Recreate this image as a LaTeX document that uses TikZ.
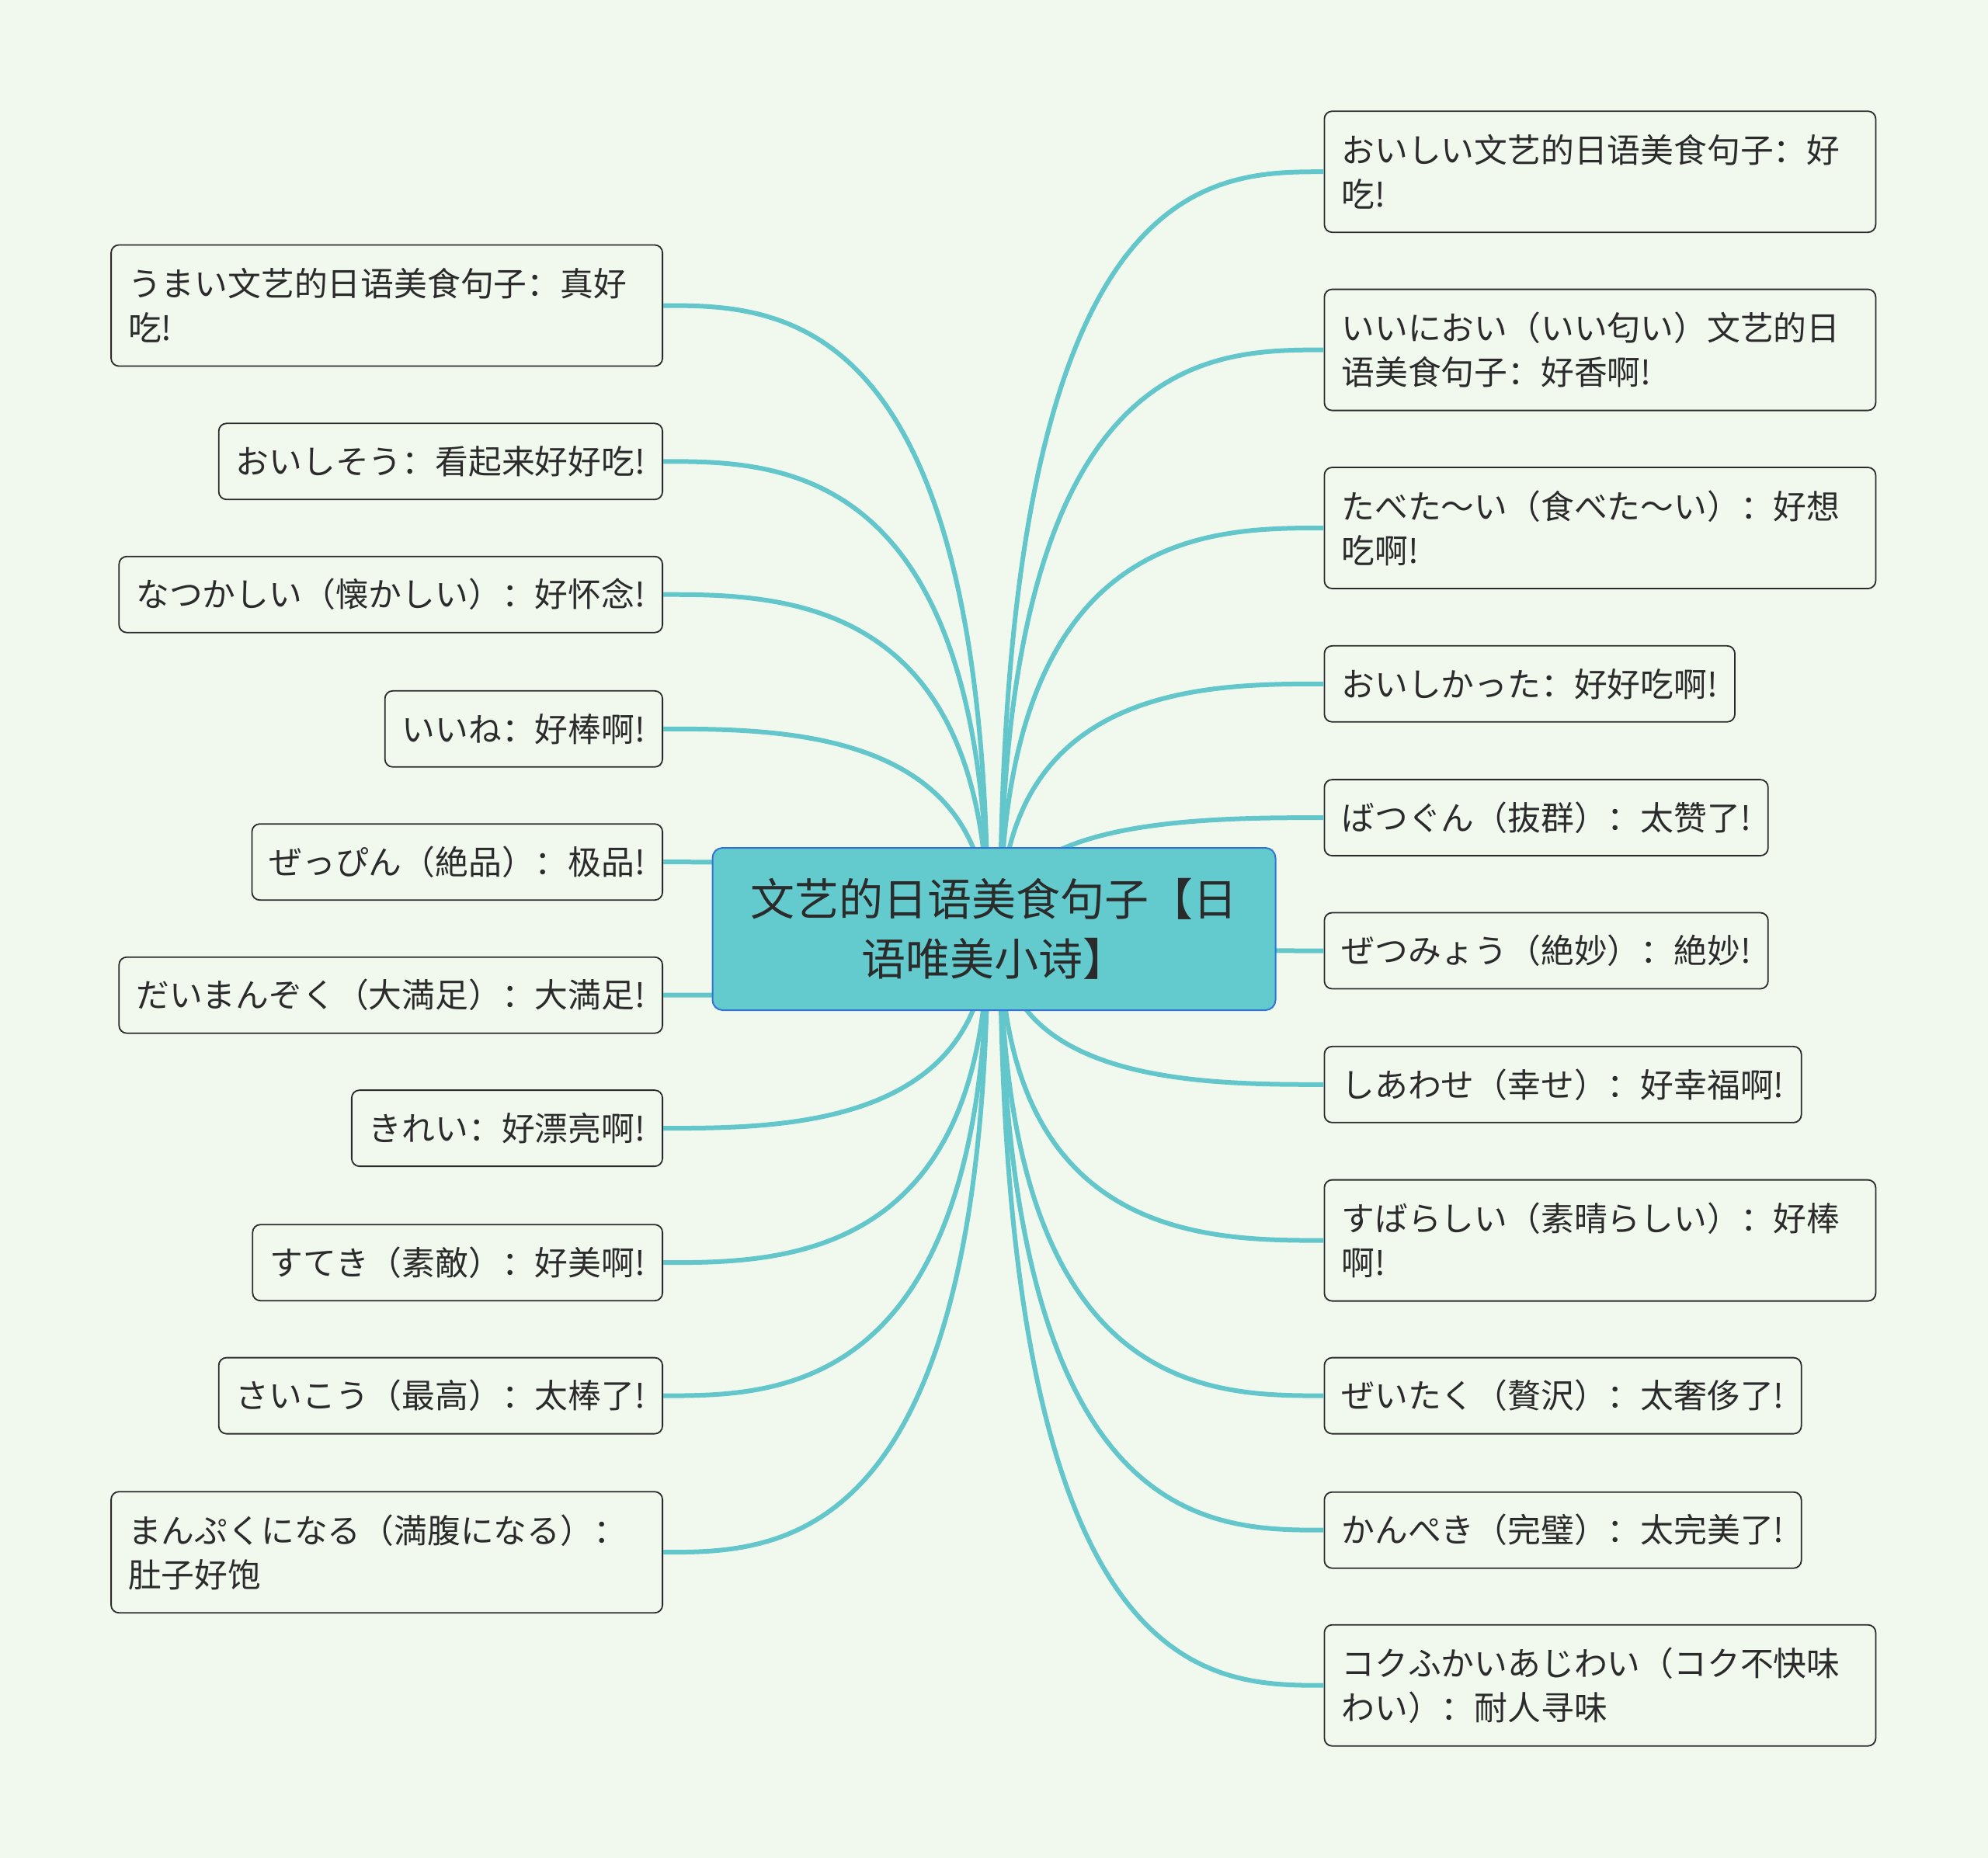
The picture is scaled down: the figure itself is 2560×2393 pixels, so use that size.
\documentclass[tikz,border=0pt]{standalone}
\usepackage{fontspec}
\setmainfont{Noto Sans CJK SC}
\usepackage{tikz}
\definecolor{paper}{HTML}{F1F9EF}
\definecolor{branch}{HTML}{63C6CA}
\definecolor{rootfill}{HTML}{63CACD}
\definecolor{rootline}{HTML}{2F74D6}
\definecolor{ink}{HTML}{2B2B2B}
\tikzset{
  leaf/.style={
    draw=ink, line width=0.9pt, rounded corners=5pt, fill=paper, text=ink,
    font=\fontsize{21.4pt}{28.6pt}\selectfont,
    inner xsep=11pt, inner ysep=0pt, minimum height=49pt, align=left
  },
  wide/.style={text width=333pt, minimum height=78pt},
  rootbox/.style={
    draw=rootline, line width=1pt, rounded corners=6.5pt, fill=rootfill, text=ink,
    font=\fontsize{28.5pt}{38.4pt}\selectfont,
    minimum width=362.5pt, minimum height=104.5pt, align=center
  },
  link/.style={draw=branch, line width=3pt}
}

\begin{document}
\begin{tikzpicture}[x=0.5pt, y=-0.5pt]
  \useasboundingbox (0,0) rectangle (2560,2393);
  \fill[paper] (0,0) rectangle (2560,2393);

  % hubs the branches grow from (behind the root box)
  \coordinate (hub) at (1280,1196.5);
  \coordinate (hubL) at (1272,1196.5);
  \coordinate (hubR) at (1288,1196.5);

  % left branches
  \node[leaf, wide, anchor=east] (l1) at (854,393.5) {うまい文艺的日语美食句子：真好\\吃!};
  \node[leaf, anchor=east] (l2) at (854,594.3) {おいしそう：看起来好好吃!};
  \node[leaf, anchor=east] (l3) at (854,765.7) {なつかしい（懐かしい）：好怀念!};
  \node[leaf, anchor=east] (l4) at (854,938.8) {いいね：好棒啊!};
  \node[leaf, anchor=east] (l5) at (854,1110.2) {ぜっぴん（絶品）：极品!};
  \node[leaf, anchor=east] (l6) at (854,1281.7) {だいまんぞく（大満足）：大満足!};
  \node[leaf, anchor=east] (l7) at (854,1453.1) {きれい：好漂亮啊!};
  \node[leaf, anchor=east] (l8) at (854,1626.2) {すてき（素敵）：好美啊!};
  \node[leaf, anchor=east] (l9) at (854,1797.6) {さいこう（最高）：太棒了!};
  \node[leaf, wide, anchor=east] (l10) at (854,1999.2) {まんぷくになる（満腹になる）：\\肚子好饱};

  % right branches
  \node[leaf, wide, anchor=west] (r1) at (1704.5,221.2) {おいしい文艺的日语美食句子：好\\吃!};
  \node[leaf, wide, anchor=west] (r2) at (1704.5,450.6) {いいにおい（いい匂い）文艺的日\\语美食句子：好香啊!};
  \node[leaf, wide, anchor=west] (r3) at (1704.5,680) {たべた～い（食べた～い）：好想\\吃啊!};
  \node[leaf, anchor=west] (r4) at (1704.5,880.8) {おいしかった：好好吃啊!};
  \node[leaf, anchor=west] (r5) at (1704.5,1053.1) {ばつぐん（抜群）：太赞了!};
  \node[leaf, anchor=west] (r6) at (1704.5,1224.5) {ぜつみょう（絶妙）：絶妙!};
  \node[leaf, anchor=west] (r7) at (1704.5,1396.8) {しあわせ（幸せ）：好幸福啊!};
  \node[leaf, wide, anchor=west] (r8) at (1704.5,1597.6) {すばらしい（素晴らしい）：好棒\\啊!};
  \node[leaf, anchor=west] (r9) at (1704.5,1797.6) {ぜいたく（贅沢）：太奢侈了!};
  \node[leaf, anchor=west] (r10) at (1704.5,1970.7) {かんぺき（完璧）：太完美了!};
  \node[leaf, wide, anchor=west] (r11) at (1704.5,2170.7) {コクふかいあじわい（コク不快味\\わい）：耐人寻味};

  % branches
  \foreach \n in {l1,l2,l3,l4,l5,l6,l7,l8,l9,l10}
    \draw[link] (hubL) .. controls (hubL |- \n.east) and +(150,0) .. (\n.east);
  \foreach \n in {r1,r2,r3,r4,r5,r6,r7,r8,r9,r10,r11}
    \draw[link] (hubR) .. controls (hubR |- \n.west) and +(-150,0) .. (\n.west);

  % central topic
  \node[rootbox] (root) at (hub) {文艺的日语美食句子【日\\语唯美小诗】};
\end{tikzpicture}
\end{document}
